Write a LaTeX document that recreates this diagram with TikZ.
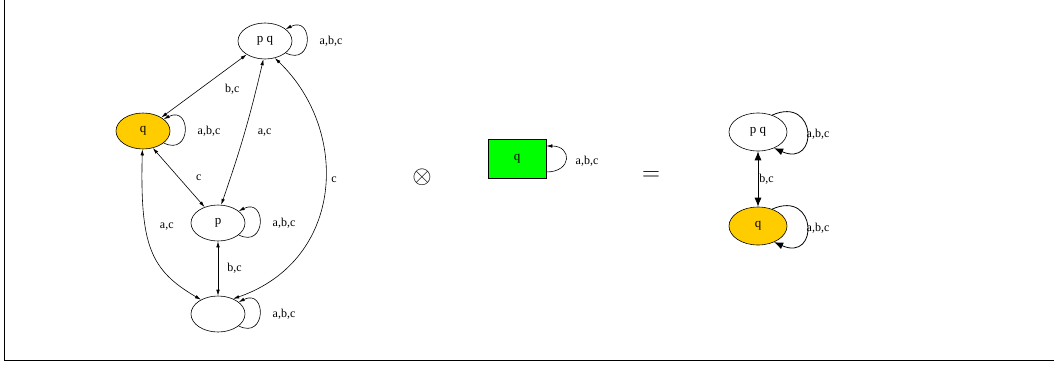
\documentclass[tikz,border=0pt]{standalone}
\usepackage{fontspec}
\setmainfont{Liberation Serif}
\usetikzlibrary{arrows.meta,calc,shapes.geometric}
\definecolor{StateClr}{HTML}{FFCC00}
\definecolor{BoxClr}{HTML}{00FF00}

\begin{document}
\begin{tikzpicture}[x=1pt,y=1pt,
  state/.style={ellipse,draw,line width=.6pt,minimum width=54pt,minimum height=36pt,
    inner sep=0pt,font=\fontsize{13}{13}\selectfont},
  bigstate/.style={state,minimum width=58pt,minimum height=38pt},
  lbl/.style={font=\fontsize{12}{12}\selectfont,inner sep=1pt},
  dbl/.style={{Latex[length=6pt,width=3.5pt]}-{Latex[length=6pt,width=3.5pt]},line width=.6pt},
  arr/.style={-{Latex[length=6pt,width=3.5pt]},line width=.6pt},
  bigdbl/.style={{Latex[length=9pt,width=7pt]}-{Latex[length=9pt,width=7pt]},line width=.8pt},
  bigarr/.style={-{Latex[length=9pt,width=7pt]},line width=.8pt}]
\useasboundingbox (0,0) rectangle (1054,365);
\draw[line width=1pt] (4,365) -- (4,5) -- (1054,5);

% left automaton
\node[state] (PQ) at (265,324) {p q};
\node[state,fill=StateClr] (Q) at (143,234) {q};
\node[state] (P) at (218,142) {p};
\node[state] (E) at (218,51) {};

\draw[dbl] (Q) -- node[lbl,pos=.45,right=24pt] {b,c} (PQ);
\draw[dbl] (P.80) to[bend right=3] node[lbl,midway,right=12pt] {a,c} (PQ.265);
\draw[dbl] (Q.-60) -- node[lbl,midway,right=16pt] {c} (P.130);
\draw[dbl] (P) -- node[lbl,midway,right=8pt] {b,c} (E);
\draw[dbl] (Q.-92) .. controls (140,120) and (150,95) .. node[lbl,pos=.35,right=13pt] {a,c} (E.140);
\draw[dbl] (E.45) .. controls (345,105) and (350,235) .. node[lbl,pos=.54,right=5pt] {c} (PQ.-60);

\foreach \s in {PQ,Q,P,E}
  \draw[arr] (\s.-30) .. controls +(28,-14) and +(28,14) .. (\s.30);
\foreach \s in {PQ,Q,P,E}
  \node[lbl] at ($(\s)+(66,0)$) {a,b,c};

% product sign, box and result
\node (X) at (422,188) {\fontsize{24}{24}\selectfont$\otimes$};
\node[draw,fill=BoxClr,line width=.6pt,minimum width=58pt,minimum height=39pt,
  inner sep=0pt,font=\fontsize{13}{13}\selectfont] (B) at (517,206) {q};
\draw[arr] ($(B.east)+(0,-13)$) .. controls +(26,0) and +(26,0) .. ($(B.east)+(0,13)$);
\node[lbl] at (587,204) {a,b,c};
\node (EQ) at (651,189) {\fontsize{24}{24}\selectfont$=$};

\node[bigstate] (RPQ) at (758,233) {p q};
\node[bigstate,fill=StateClr] (RQ) at (758,139) {q};
\draw[bigdbl] (RPQ) -- node[lbl,midway,right=0pt] {b,c} (RQ);
\foreach \s in {RPQ,RQ}
  \draw[bigarr] (\s.50) .. controls +(45,20) and +(45,-20) .. (\s.-45);
\node[lbl] at (818,231) {a,b,c};
\node[lbl] at (818,137) {a,b,c};

\end{tikzpicture}
\end{document}
